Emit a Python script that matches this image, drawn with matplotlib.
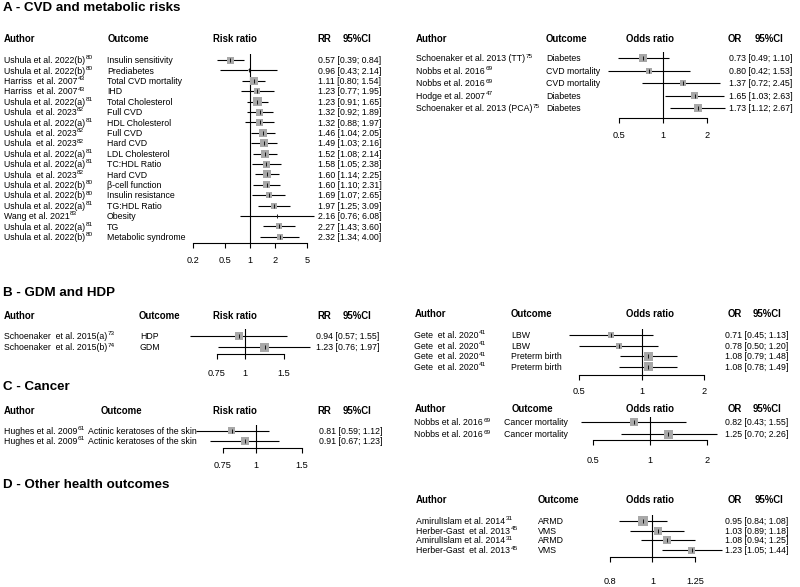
import matplotlib
matplotlib.use("Agg")
import matplotlib.pyplot as plt
from matplotlib import transforms
from matplotlib.ticker import NullLocator, FixedLocator, FixedFormatter

plt.rcParams['font.family'] = ['Liberation Sans', 'DejaVu Sans']

# ---------------- DATA ----------------
# Panel A (left): risk ratios
a1_author = ["Ushula et al. 2022(b)", "Ushula et al. 2022(b)", "Harriss  et al. 2007", "Harriss  et al. 2007",
             "Ushula et al. 2022(a)", "Ushula  et al. 2023", "Ushula et al. 2022(a)", "Ushula  et al. 2023",
             "Ushula  et al. 2023", "Ushula et al. 2022(a)", "Ushula et al. 2022(a)", "Ushula  et al. 2023",
             "Ushula et al. 2022(b)", "Ushula et al. 2022(b)", "Ushula et al. 2022(a)", "Wang et al. 2021",
             "Ushula et al. 2022(a)", "Ushula et al. 2022(b)"]
a1_ref = ["80", "80", "43", "43", "81", "82", "81", "82", "82", "81", "81", "82", "80", "80", "81", "83", "81", "80"]
a1_outcome = ["Insulin sensitivity", "Prediabetes", "Total CVD mortality", "IHD", "Total Cholesterol", "Full CVD",
              "HDL Cholesterol", "Full CVD", "Hard CVD", "LDL Cholesterol", "TC:HDL Ratio", "Hard CVD",
              "β-cell function", "Insulin resistance", "TG:HDL Ratio", "Obesity", "TG", "Metabolic syndrome"]
a1_est = [0.57, 0.96, 1.11, 1.23, 1.23, 1.32, 1.32, 1.46, 1.49, 1.52, 1.58, 1.60, 1.60, 1.69, 1.97, 2.16, 2.27, 2.32]
a1_lo = [0.39, 0.43, 0.80, 0.77, 0.91, 0.92, 0.88, 1.04, 1.03, 1.08, 1.05, 1.14, 1.10, 1.07, 1.25, 0.76, 1.43, 1.34]
a1_hi = [0.84, 2.14, 1.54, 1.95, 1.65, 1.89, 1.97, 2.05, 2.16, 2.14, 2.38, 2.25, 2.31, 2.65, 3.09, 6.08, 3.60, 4.00]
a1_weight = [7, 2, 8, 6, 9, 7, 7, 8, 8, 8, 7, 8, 7, 6, 6, 1.5, 6, 6]
a1_ticks = [0.2, 0.5, 1, 2, 5]
a1_ticklabels = ["0.2", "0.5", "1", "2", "5"]

# Panel A (right): odds ratios
a2_author = ["Schoenaker et al. 2013 (TT)", "Nobbs et al. 2016", "Nobbs et al. 2016", "Hodge et al. 2007",
             "Schoenaker et al. 2013 (PCA)"]
a2_ref = ["75", "69", "69", "47", "75"]
a2_outcome = ["Diabetes", "CVD mortality", "CVD mortality", "Diabetes", "Diabetes"]
a2_est = [0.73, 0.80, 1.37, 1.65, 1.73]
a2_lo = [0.49, 0.42, 0.72, 1.03, 1.12]
a2_hi = [1.10, 1.53, 2.45, 2.63, 2.67]
a2_weight = [8, 6, 6, 7, 8]
a2_ticks = [0.5, 1, 2]
a2_ticklabels = ["0.5", "1", "2"]

# Panel B (left): risk ratios
b1_author = ["Schoenaker  et al. 2015(a)", "Schoenaker  et al. 2015(b)"]
b1_ref = ["73", "74"]
b1_outcome = ["HDP", "GDM"]
b1_est = [0.94, 1.23]
b1_lo = [0.57, 0.76]
b1_hi = [1.55, 1.97]
b1_weight = [8, 9]
b1_ticks = [0.75, 1, 1.5]
b1_ticklabels = ["0.75", "1", "1.5"]

# Panel B (right): odds ratios
b2_author = ["Gete  et al. 2020", "Gete  et al. 2020", "Gete  et al. 2020", "Gete  et al. 2020"]
b2_ref = ["41", "41", "41", "41"]
b2_outcome = ["LBW", "LBW", "Preterm birth", "Preterm birth"]
b2_est = [0.71, 0.78, 1.08, 1.08]
b2_lo = [0.45, 0.50, 0.79, 0.78]
b2_hi = [1.13, 1.20, 1.48, 1.49]
b2_weight = [6, 6, 9, 9]
b2_ticks = [0.5, 1, 2]
b2_ticklabels = ["0.5", "1", "2"]

# Panel C (left): risk ratios
c1_author = ["Hughes et al. 2009", "Hughes et al. 2009"]
c1_ref = ["61", "61"]
c1_outcome = ["Actinic keratoses of the skin", "Actinic keratoses of the skin"]
c1_est = [0.81, 0.91]
c1_lo = [0.59, 0.67]
c1_hi = [1.12, 1.23]
c1_weight = [7, 8]
c1_ticks = [0.75, 1, 1.5]
c1_ticklabels = ["0.75", "1", "1.5"]

# Panel C (right): odds ratios
c2_author = ["Nobbs et al. 2016", "Nobbs et al. 2016"]
c2_ref = ["69", "69"]
c2_outcome = ["Cancer mortality", "Cancer mortality"]
c2_est = [0.82, 1.25]
c2_lo = [0.43, 0.70]
c2_hi = [1.55, 2.26]
c2_weight = [8, 9]
c2_ticks = [0.5, 1, 2]
c2_ticklabels = ["0.5", "1", "2"]

# Panel D (right): odds ratios
d2_author = ["AmirulIslam et al. 2014", "Herber-Gast  et al. 2013", "AmirulIslam et al. 2014",
             "Herber-Gast  et al. 2013"]
d2_ref = ["31", "45", "31", "45"]
d2_outcome = ["ARMD", "VMS", "ARMD", "VMS"]
d2_est = [0.95, 1.03, 1.08, 1.23]
d2_lo = [0.84, 0.89, 0.94, 1.05]
d2_hi = [1.08, 1.18, 1.25, 1.44]
d2_weight = [10, 8, 8, 7]
d2_ticks = [0.8, 1, 1.25]
d2_ticklabels = ["0.8", "1", "1.25"]

# ---------------- LAYOUT / DRAWING ----------------
W, H = 800, 587
fig = plt.figure(figsize=(W / 100, H / 100), dpi=100)
fig.patch.set_facecolor("white")
renderer = fig.canvas.get_renderer()

FS = 6.3
SFS = 4.6
HFS = 6.9
TFS = 9.6
SQ = "#a8a8a8"


def fx(px):
    return px / W


def fy(py):
    return 1 - py / H


def forest(author, ref, outcome, est, lo, hi, weight, ticks, ticklabels, lay):
    x0, x1 = lay["xpix"]
    y0, p = lay["row0"], lay["pitch"]
    ytop, yax = lay["ytop"], lay["yaxis"]
    ax = fig.add_axes([fx(x0), fy(yax), (x1 - x0) / W, (yax - ytop) / H])
    ax.set_xscale("log")
    ax.set_xlim(ticks[0], ticks[-1])
    ax.set_ylim((yax - y0) / p, -(y0 - ytop) / p)
    ax.patch.set_alpha(0)
    for s in ["left", "right", "top"]:
        ax.spines[s].set_visible(False)
    ax.spines["bottom"].set_linewidth(0.8)
    ax.yaxis.set_major_locator(NullLocator())
    ax.xaxis.set_major_locator(FixedLocator(ticks))
    ax.xaxis.set_major_formatter(FixedFormatter(ticklabels))
    ax.xaxis.set_minor_locator(NullLocator())
    ax.tick_params(axis="x", length=3.8, width=0.8, pad=lay["pad"], labelsize=6.6, direction="out")
    ax.axvline(1, color="black", lw=0.8, zorder=1)
    rows = list(range(len(est)))
    ax.hlines(rows, lo, hi, color="black", lw=0.8, clip_on=False, zorder=2)
    ax.scatter(est, rows, marker="s", s=[(w * 0.72) ** 2 for w in weight], color=SQ,
               linewidths=0, zorder=3, clip_on=False)
    ax.scatter(est, rows, marker="|", s=6, color="black", linewidths=0.6, zorder=4, clip_on=False)

    tr0 = transforms.blended_transform_factory(fig.transFigure, ax.transData)
    tr = transforms.offset_copy(tr0, fig=fig, y=-0.36 * FS, units="points")
    cx = lay["cols"]
    for i in rows:
        t = fig.text(fx(cx[0]), i, author[i], transform=tr, fontsize=FS, va="baseline", ha="left")
        bb = t.get_window_extent(renderer=renderer)
        xe = bb.x1 / W + 0.4 / W
        trs = transforms.offset_copy(tr0, fig=fig, y=-0.36 * FS + 0.42 * FS, units="points")
        fig.text(xe, i, ref[i], transform=trs, fontsize=SFS, va="baseline", ha="left")
        fig.text(fx(cx[1]), i, outcome[i], transform=tr, fontsize=FS, va="baseline", ha="left")
        fig.text(fx(cx[2]), i, f"{est[i]:.2f} [{lo[i]:.2f}; {hi[i]:.2f}]", transform=tr, fontsize=FS,
                 va="baseline", ha="left")
    hx = lay["hcols"]
    hy = fy(lay["hy"])
    fig.text(fx(hx[0]), hy, "Author", fontsize=HFS, weight="bold", va="center")
    fig.text(fx(hx[1]), hy, "Outcome", fontsize=HFS, weight="bold", va="center")
    fig.text(fx(hx[2]), hy, lay["measure"], fontsize=HFS, weight="bold", va="center", ha="center")
    fig.text(fx(hx[3]), hy, lay["abbr"], fontsize=HFS, weight="bold", va="center")
    fig.text(fx(hx[4]), hy, "95%CI", fontsize=HFS, weight="bold", va="center")
    return ax


# Section titles
for txt, py in [("A - CVD and metabolic risks", 8), ("B - GDM and HDP", 293), ("C - Cancer", 387),
                ("D - Other health outcomes", 485)]:
    fig.text(fx(3), fy(py), txt, fontsize=TFS, weight="bold", va="center", ha="left")

forest(a1_author, a1_ref, a1_outcome, a1_est, a1_lo, a1_hi, a1_weight, a1_ticks, a1_ticklabels,
       dict(xpix=(193, 307), row0=60, pitch=10.4, ytop=54, yaxis=243, pad=5.5,
            cols=(4, 107, 318), hcols=(4, 108, 235, 317, 343), hy=39,
            measure="Risk ratio", abbr="RR"))

forest(a2_author, a2_ref, a2_outcome, a2_est, a2_lo, a2_hi, a2_weight, a2_ticks, a2_ticklabels,
       dict(xpix=(619, 707), row0=58.3, pitch=12.5, ytop=52, yaxis=118, pad=5.5,
            cols=(416, 546, 729), hcols=(416, 546, 650, 728, 755), hy=39,
            measure="Odds ratio", abbr="OR"))

forest(b1_author, b1_ref, b1_outcome, b1_est, b1_lo, b1_hi, b1_weight, b1_ticks, b1_ticklabels,
       dict(xpix=(217, 284), row0=335.7, pitch=11.6, ytop=329, yaxis=354, pad=7,
            cols=(4, 140, 316), hcols=(4, 139, 235, 317, 343), hy=316,
            measure="Risk ratio", abbr="RR"))

forest(b2_author, b2_ref, b2_outcome, b2_est, b2_lo, b2_hi, b2_weight, b2_ticks, b2_ticklabels,
       dict(xpix=(579, 704), row0=335, pitch=10.6, ytop=329, yaxis=375, pad=4.5,
            cols=(414, 511, 725), hcols=(415, 511, 650, 728, 753), hy=314,
            measure="Odds ratio", abbr="OR"))

forest(c1_author, c1_ref, c1_outcome, c1_est, c1_lo, c1_hi, c1_weight, c1_ticks, c1_ticklabels,
       dict(xpix=(223, 302), row0=430.7, pitch=10, ytop=425, yaxis=448, pad=5.5,
            cols=(4, 87.5, 319), hcols=(4, 101, 235, 317, 343), hy=411,
            measure="Risk ratio", abbr="RR"))

forest(c2_author, c2_ref, c2_outcome, c2_est, c2_lo, c2_hi, c2_weight, c2_ticks, c2_ticklabels,
       dict(xpix=(593, 707), row0=422.3, pitch=12, ytop=416.5, yaxis=440, pad=7.5,
            cols=(414, 504, 725), hcols=(415, 512, 650, 728, 753), hy=409,
            measure="Odds ratio", abbr="OR"))

forest(d2_author, d2_ref, d2_outcome, d2_est, d2_lo, d2_hi, d2_weight, d2_ticks, d2_ticklabels,
       dict(xpix=(610, 695), row0=520.7, pitch=9.8, ytop=515, yaxis=557, pad=10.5,
            cols=(416, 538, 725), hcols=(416, 538, 650, 728, 755), hy=500,
            measure="Odds ratio", abbr="OR"))

fig.savefig("out.png", dpi=100, facecolor="white")
